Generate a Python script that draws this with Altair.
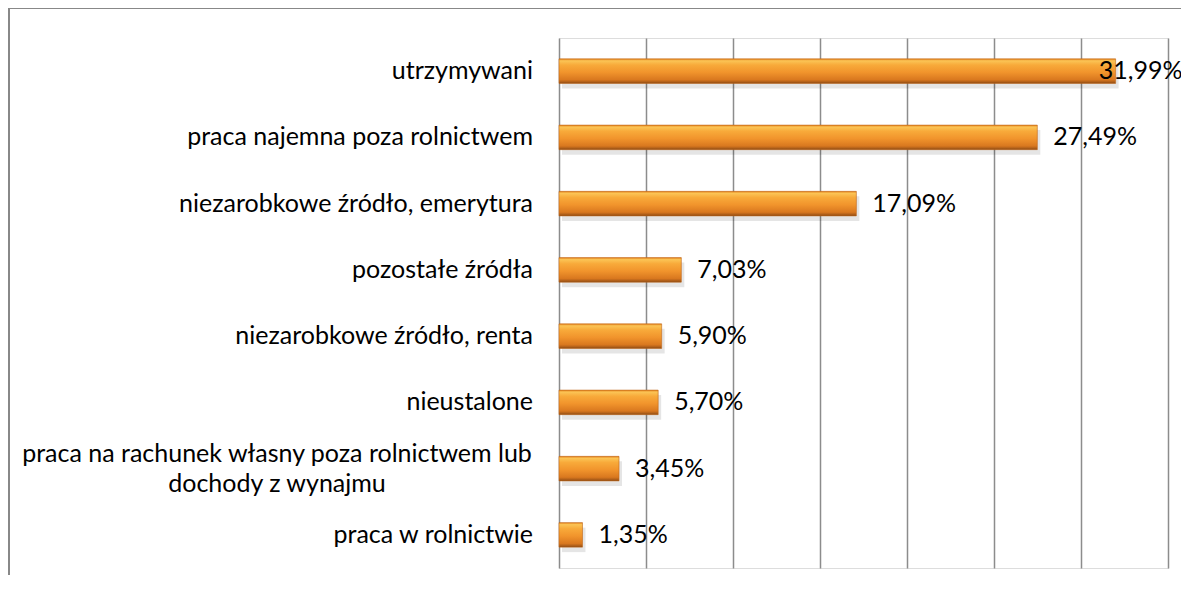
import altair as alt
import pandas as pd

categories = [
    "utrzymywani",
    "praca najemna poza rolnictwem",
    "niezarobkowe źródło, emerytura",
    "pozostałe źródła",
    "niezarobkowe źródło, renta",
    "nieustalone",
    "praca na rachunek własny poza rolnictwem lub\ndochody z wynajmu",
    "praca w rolnictwie",
]
values = [31.99, 27.49, 17.09, 7.03, 5.90, 5.70, 3.45, 1.35]
grid_ticks = [0, 5, 10, 15, 20, 25, 30, 35]

df = pd.DataFrame({"cat": categories, "value": values})

FONT = "Lato"
FS = 25

x_scale = alt.Scale(domain=[0, 35], nice=False, zero=True)
y_scale = alt.Scale(domain=categories, paddingInner=0.63, paddingOuter=0.315)

base = alt.Chart(df)

grid = base.mark_bar(opacity=0).encode(
    x=alt.X("value:Q", scale=x_scale,
            axis=alt.Axis(values=grid_ticks, grid=True, labels=False, ticks=False,
                          domain=False, title=None, gridColor="#8c8c8c", gridWidth=1.5)),
    y=alt.Y("cat:N", scale=y_scale, sort=categories, axis=None),
)

shadow = base.mark_bar(color="#000000", opacity=0.10, xOffset=3, yOffset=5).encode(
    x=alt.X("value:Q", scale=x_scale),
    y=alt.Y("cat:N", scale=y_scale, sort=categories),
)

grad = alt.Gradient(
    gradient="linear", x1=0, x2=0, y1=0, y2=1,
    stops=[
        alt.GradientStop(offset=0.0, color="#e5821c"),
        alt.GradientStop(offset=0.08, color="#fbc455"),
        alt.GradientStop(offset=0.25, color="#f8aa3a"),
        alt.GradientStop(offset=0.55, color="#f1942c"),
        alt.GradientStop(offset=0.85, color="#d9781f"),
        alt.GradientStop(offset=0.93, color="#b5621a"),
        alt.GradientStop(offset=1.0, color="#8a4a14"),
    ],
)

bars = base.mark_bar(color=grad, stroke="#c0671a", strokeWidth=0.6).encode(
    x=alt.X("value:Q", scale=x_scale),
    y=alt.Y("cat:N", scale=y_scale, sort=categories),
)

vals = base.transform_calculate(
    lx="min(datum.value, 30.1)",
    txt="replace(format(datum.value, '.2f'), '.', ',') + '%'",
).mark_text(align="left", baseline="middle", dx=16, font=FONT, fontSize=FS, color="#000000").encode(
    x=alt.X("lx:Q", scale=x_scale),
    y=alt.Y("cat:N", scale=y_scale, sort=categories),
    text="txt:N",
)

labels_single = base.transform_filter("indexof(datum.cat, '\\n') < 0").mark_text(
    align="right", baseline="middle", font=FONT, fontSize=FS, color="#000000"
).encode(
    x=alt.value(-26),
    y=alt.Y("cat:N", scale=y_scale, sort=categories),
    text="cat:N",
)

labels_multi = base.transform_filter("indexof(datum.cat, '\\n') >= 0").mark_text(
    align="center", baseline="middle", font=FONT, fontSize=FS, color="#000000",
    lineBreak="\n", lineHeight=30, dy=-15,
).encode(
    x=alt.value(-282),
    y=alt.Y("cat:N", scale=y_scale, sort=categories),
    text="cat:N",
)

frame = alt.Chart(pd.DataFrame({"a": [0]})).mark_rect(
    fill=None, stroke="#888888", strokeWidth=2
).encode(
    x=alt.value(-550), x2=alt.value(700), y=alt.value(-30), y2=alt.value(700)
)

chart = alt.layer(frame, grid, shadow, bars, vals, labels_single, labels_multi).properties(
    width=609, height=530,
    autosize=alt.AutoSizeParams(type="none"),
    padding={"left": 551, "top": 30, "right": 13, "bottom": 7},
).configure_view(stroke=None).configure(background="white")

chart.save("out.html", embed_options={"renderer": "svg", "actions": False})
